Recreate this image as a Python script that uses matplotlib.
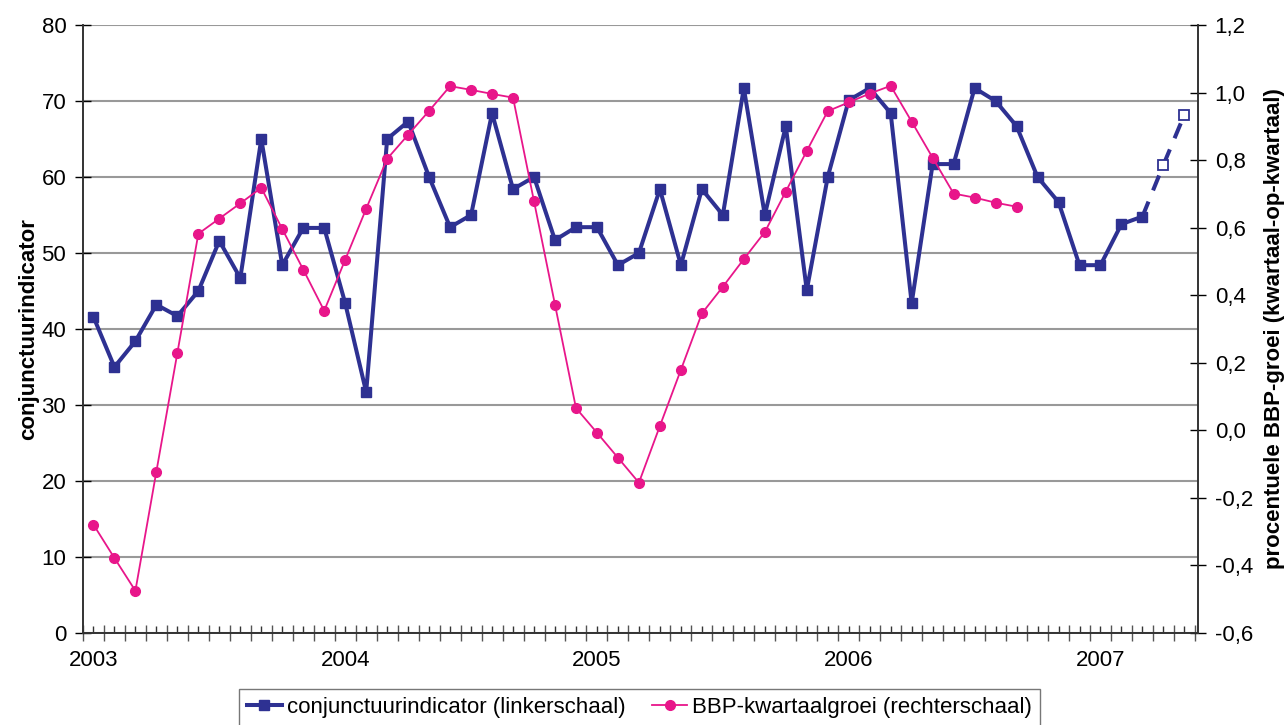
import matplotlib
matplotlib.use('Agg')
import matplotlib.pyplot as plt
from matplotlib.ticker import FuncFormatter, MultipleLocator

plt.rcParams['font.family'] = ['Liberation Sans', 'DejaVu Sans']
plt.rcParams['axes.unicode_minus'] = False

# conjunctuurindicator, monthly from Jan 2003 (last two months are estimates)
conj = [41.6, 35.0, 38.4, 43.2, 41.7, 45.0, 51.6, 46.7, 65.0, 48.4, 53.3, 53.3,
        43.4, 31.7, 65.0, 67.3, 60.0, 53.4, 55.0, 68.4, 58.4, 60.0, 51.7, 53.4,
        53.4, 48.4, 50.0, 58.4, 48.4, 58.4, 55.0, 71.7, 55.0, 66.7, 45.1, 60.0,
        70.1, 71.7, 68.4, 43.4, 61.7, 61.7, 71.7, 70.0, 66.7, 60.0, 56.7, 48.4,
        48.4, 53.8, 54.8, 61.6, 68.2]
n_actual = 51

# BBP-kwartaalgroei (%), monthly
bbp = [-0.279, -0.378, -0.475, -0.122, 0.229, 0.582, 0.627, 0.672, 0.718, 0.596, 0.476, 0.354,
       0.505, 0.656, 0.804, 0.875, 0.946, 1.019, 1.008, 0.996, 0.985, 0.678, 0.372, 0.066,
       -0.007, -0.081, -0.155, 0.013, 0.179, 0.346, 0.425, 0.507, 0.587, 0.707, 0.827, 0.945,
       0.971, 0.997, 1.020, 0.914, 0.807, 0.701, 0.689, 0.674, 0.662]

years = ['2003', '2004', '2005', '2006', '2007']

BLUE = '#2E3192'
PINK = '#E8168A'

fig = plt.figure(figsize=(12.86, 7.25), dpi=100)
ax = fig.add_axes([0.0645, 0.1269, 0.8671, 0.8386])
ax2 = ax.twinx()

x = list(range(len(conj)))
ax.plot(x[:n_actual], conj[:n_actual], color=BLUE, lw=2.9, marker='s', ms=7.5,
        mec=BLUE, mfc=BLUE, label='conjunctuurindicator (linkerschaal)', zorder=3)
ax.plot(x[n_actual - 1:], conj[n_actual - 1:], color=BLUE, lw=2.9, ls=(0, (4, 3)),
        marker='s', ms=7, mfc='white', mec=BLUE, mew=1.3, markevery=[1, 2], zorder=3)

xb = list(range(len(bbp)))
ax2.plot(xb, bbp, color=PINK, lw=1.3, marker='o', ms=7, mec=PINK, mfc=PINK,
         label='BBP-kwartaalgroei (rechterschaal)')

# left axis
ax.set_ylim(0, 80)
ax.yaxis.set_major_locator(MultipleLocator(10))
ax.grid(axis='y', color='#999999', lw=1.5)
ax.set_axisbelow(True)
ax.set_ylabel('conjunctuurindicator', fontsize=16, fontweight='bold', labelpad=2)

# right axis
ax2.set_ylim(-0.6, 1.2)
ax2.yaxis.set_major_locator(MultipleLocator(0.2))
ax2.yaxis.set_major_formatter(FuncFormatter(lambda v, p: ('%.1f' % v).replace('.', ',').replace('-0,0', '0,0')))
ax2.set_ylabel('procentuele BBP-groei (kwartaal-op-kwartaal)', fontsize=16,
               fontweight='bold', labelpad=8)

# x axis: short ticks at the months, long crossing ticks between them
ax.set_xlim(-0.5, 52.65)
ax.set_xticks(x)
ax.set_xticklabels([years[i // 12] if i % 12 == 0 else '' for i in x])
ax.set_xticks([i - 0.5 for i in range(54)], minor=True)
ax.tick_params(axis='x', which='major', direction='in', length=5, width=1,
               color='#333333', labelsize=16, pad=12)
ax.tick_params(axis='x', which='minor', direction='inout', length=11, width=1, color='#555555')
ax.tick_params(axis='y', direction='inout', length=12, width=1, labelsize=16, pad=6)
ax2.tick_params(axis='y', direction='inout', length=12, width=1, labelsize=16, pad=6)

for a in (ax, ax2):
    a.spines['top'].set_visible(False)
    for s in ('left', 'right', 'bottom'):
        a.spines[s].set_color('#333333')
        a.spines[s].set_linewidth(1.2)

h1, l1 = ax.get_legend_handles_labels()
h2, l2 = ax2.get_legend_handles_labels()
leg = fig.legend(h1 + h2, l1 + l2, loc='upper center', bbox_to_anchor=(0.497, 0.049),
                 ncol=2, fontsize=16, frameon=True, fancybox=False, edgecolor='#555555',
                 handlelength=1.6, handletextpad=0.2, columnspacing=1.2, borderpad=0.35,
                 borderaxespad=0)
leg.get_frame().set_linewidth(1.0)

fig.savefig('out.png', dpi=100)
